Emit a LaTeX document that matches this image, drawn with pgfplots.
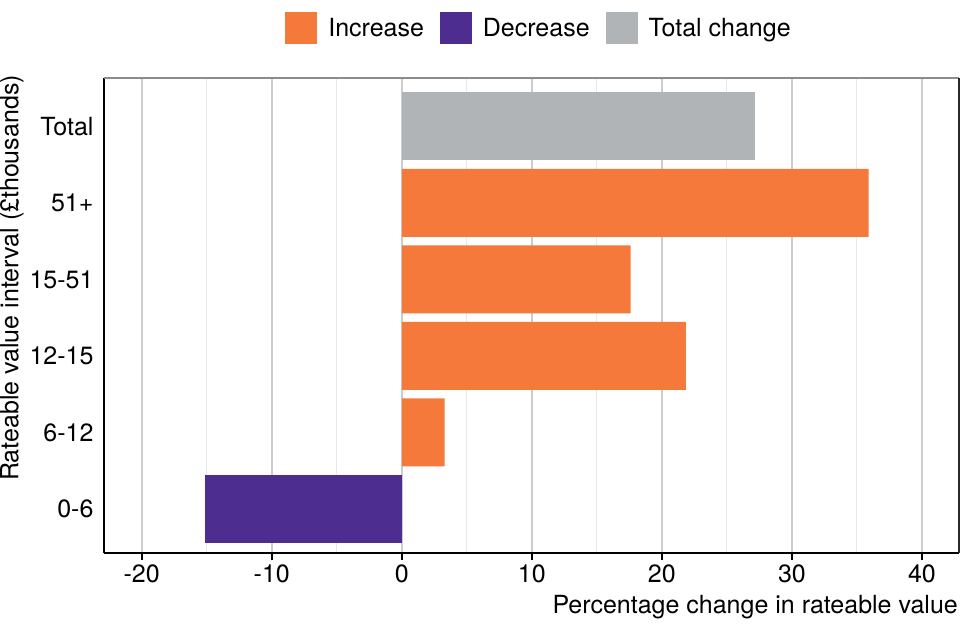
\documentclass[border=0pt]{standalone}
\usepackage{pgfplots}
\pgfplotsset{compat=1.18}
\usepackage{fontspec}
\setmainfont{TeX Gyre Heros}

\definecolor{incr}{RGB}{244,121,58}
\definecolor{decr}{RGB}{78,45,145}
\definecolor{totc}{RGB}{177,180,182}
\newcommand{\chartfont}{\fontsize{25}{30}\selectfont}

\begin{document}
\begin{tikzpicture}[x=1pt,y=1pt]
\path[use as bounding box] (0,0) rectangle (960,640);
\begin{axis}[
  at={(104pt,87pt)}, anchor=south west,
  width=855pt, height=475pt, scale only axis,
  font=\chartfont,
  /pgf/number format/assume math mode=true,
  xbar, bar width=68pt, bar shift=0pt,
  xmin=-22.9, xmax=42.85,
  ymin=-0.575, ymax=5.63,
  xtick={-20,-10,0,10,20,30,40},
  minor xtick={-15,-5,5,15,25,35},
  ytick={0,1,2,3,4,5},
  yticklabels={0-6,6-12,12-15,15-51,51+,Total},
  axis x line*=bottom, axis y line*=left,
  axis line style={black, line width=2pt},
  x axis line style={-}, y axis line style={-},
  xmajorgrids, xminorgrids,
  major grid style={draw={rgb,255:red,204;green,204;blue,204}, line width=1.6pt},
  minor grid style={draw={rgb,255:red,232;green,232;blue,232}, line width=1pt},
  tick align=outside, major tick length=7pt, minor tick length=0pt,
  xtick style={black, line width=1.6pt},
  ytick style={draw=none},
  xticklabel style={yshift=-1pt},
  legend columns=3,
  legend style={at={(0.5076,1.105)}, anchor=center, draw=none, fill=none,
    font=\chartfont,
    /tikz/every even column/.append style={column sep=16pt},
    /tikz/every odd column/.append style={column sep=11pt},
    nodes={inner xsep=0pt}},
  legend image code/.code={\fill[#1,draw=none] (0pt,-16pt) rectangle (32pt,16pt);},
  clip=false,
]
\addplot[fill=incr, draw=none] coordinates {(3.3,1) (21.85,2) (17.6,3) (35.9,4)};
\addlegendentry{Increase}
\addplot[fill=decr, draw=none] coordinates {(-15.15,0)};
\addlegendentry{Decrease}
\addplot[fill=totc, draw=none] coordinates {(27.15,5)};
\addlegendentry{Total change}
\draw[draw={rgb,255:red,140;green,140;blue,140}, line width=1.5pt] (rel axis cs:0,1) -- (rel axis cs:1,1);
\draw[draw={rgb,255:red,40;green,40;blue,40}, line width=1.5pt] (rel axis cs:1,0) -- (rel axis cs:1,1);
\end{axis}
\node[font=\chartfont, rotate=90] at (12,362) {Rateable value interval (£thousands)};
\node[font=\chartfont, anchor=east, inner sep=0pt] at (958,33) {Percentage change in rateable value};
\end{tikzpicture}
\end{document}
